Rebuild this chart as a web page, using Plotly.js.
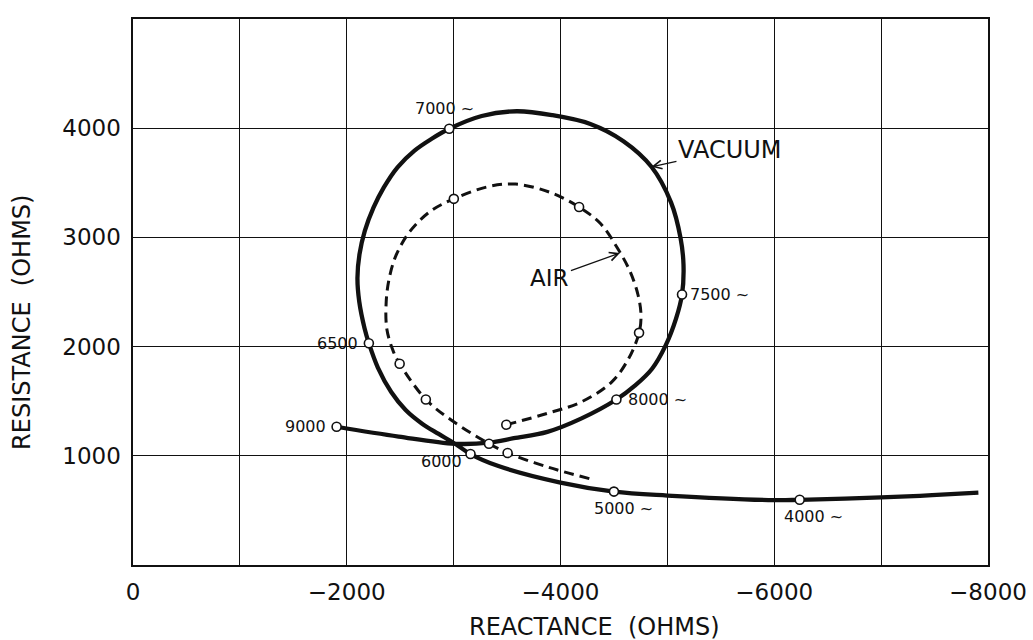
<!DOCTYPE html>
<html>
<head>
<meta charset="utf-8">
<script src="https://cdn.plot.ly/plotly-3.0.1.min.js"></script>
<style>
  html, body { margin: 0; padding: 0; background: #fff; }
  #chart { width: 1033px; height: 640px; }
</style>
</head>
<body>
<div id="chart"></div>
<script>
// ---- Data ----
// Vacuum locus (solid), traced from the low-frequency end to 9000 ~
const vacuumX = [-7910, -7477, -7000, -6238, -6000, -5000, -4500, -4000, -3419, -3158, -3014, -2860, -2705, -2551, -2416, -2291, -2207, -2167, -2117, -2100, -2119, -2169, -2251, -2347, -2475, -2634, -2791, -2959, -3263, -3590, -3920, -4279, -4589, -4851, -5034, -5123, -5151, -5137, -5081, -4983, -4855, -4696, -4523, -4192, -3877, -3563, -3328, -3014, -2485, -1905];
const vacuumY = [662, 639, 619, 597, 594, 636, 672, 755, 906, 1016, 1110, 1200, 1294, 1419, 1584, 1808, 2031, 2166, 2412, 2628, 2844, 3059, 3274, 3458, 3642, 3795, 3901, 3995, 4112, 4155, 4120, 4039, 3881, 3647, 3321, 2996, 2748, 2477, 2256, 2009, 1795, 1642, 1515, 1340, 1219, 1161, 1120, 1110, 1176, 1266];

// Vacuum frequency points
const vacPointX = [-6238, -4500, -3158, -2207, -2959, -5137, -4523, -1905];
const vacPointY = [597, 672, 1016, 2031, 3995, 2477, 1515, 1266];
const vacFreqLabels = ["4000 ~", "5000 ~", "6000", "6500", "7000 ~", "7500 ~", "8000 ~", "9000"];

// Air locus (dashed)
const airX = [-3493, -3879, -4194, -4478, -4637, -4735, -4753, -4725, -4649, -4528, -4374, -4174, -3909, -3580, -3316, -3002, -2781, -2591, -2463, -2397, -2369, -2375, -2434, -2495, -2740, -2987, -3331, -3505, -3888, -4277];
const airY = [1285, 1389, 1493, 1675, 1890, 2126, 2290, 2475, 2692, 2910, 3127, 3278, 3410, 3488, 3463, 3353, 3238, 3055, 2840, 2624, 2409, 2162, 1961, 1843, 1516, 1321, 1111, 1026, 895, 789];

// Air measured points
const airPointX = [-3493, -4735, -4174, -3002, -2495, -2740, -3331, -3505];
const airPointY = [1285, 2126, 3278, 3353, 1843, 1516, 1111, 1026];

// Axis ticks
const xTickVals = [0, -1000, -2000, -3000, -4000, -5000, -6000, -7000, -8000];
const xTickText = ["0", "", "\u22122000", "", "\u22124000", "", "\u22126000", "", "\u22128000"];
const yTickVals = [1000, 2000, 3000, 4000, 5000];
const yTickText = ["1000", "2000", "3000", "4000", ""];

// Curve names and axis titles
const seriesNames = ["VACUUM", "AIR"];
const xTitle = "REACTANCE  (OHMS)";
const yTitle = "RESISTANCE  (OHMS)";

// ---- Styling / placement (not data) ----
const FONT = "DejaVu Sans, Liberation Sans, sans-serif";
const INK = "#111";
const labelPlace = [
  {xanchor: "center", xshift: 14, yshift: -17},  // 4000
  {xanchor: "center", xshift: 10, yshift: -17},  // 5000
  {xanchor: "right",  xshift: -7, yshift: -7},   // 6000
  {xanchor: "right",  xshift: -9, yshift: 0},    // 6500
  {xanchor: "center", xshift: -5, yshift: 20},   // 7000
  {xanchor: "left",   xshift: 6,  yshift: 0},    // 7500
  {xanchor: "left",   xshift: 10, yshift: 0},    // 8000
  {xanchor: "right",  xshift: -9, yshift: 0}     // 9000
];

const traces = [
  {
    x: vacuumX, y: vacuumY, type: "scatter", mode: "lines", name: seriesNames[0],
    line: {color: INK, width: 4.3, shape: "spline", smoothing: 1},
    hoverinfo: "skip"
  },
  {
    x: airX, y: airY, type: "scatter", mode: "lines", name: seriesNames[1],
    line: {color: INK, width: 3, dash: "10px,6px", shape: "spline", smoothing: 1},
    hoverinfo: "skip"
  },
  {
    x: vacPointX, y: vacPointY, type: "scatter", mode: "markers",
    marker: {symbol: "circle", size: 9, color: "#fff", line: {color: INK, width: 1.6}}
  },
  {
    x: airPointX, y: airPointY, type: "scatter", mode: "markers",
    marker: {symbol: "circle", size: 9, color: "#fff", line: {color: INK, width: 1.6}}
  }
];

const annotations = vacFreqLabels.map((t, i) => ({
  x: vacPointX[i], y: vacPointY[i], xref: "x", yref: "y",
  text: t, showarrow: false,
  xanchor: labelPlace[i].xanchor, yanchor: "middle",
  xshift: labelPlace[i].xshift, yshift: labelPlace[i].yshift,
  font: {family: FONT, size: 16, color: INK}
}));

// VACUUM and AIR callouts with arrows pointing at the curves
annotations.push({
  x: -4851, y: 3647, xref: "x", yref: "y", text: seriesNames[0],
  showarrow: true, arrowhead: 5, arrowsize: 1.3, arrowwidth: 1.3, arrowcolor: INK,
  ax: 78, ay: -17, standoff: 0,
  font: {family: FONT, size: 24, color: INK}
});
annotations.push({
  x: -4556, y: 2857, xref: "x", yref: "y", text: seriesNames[1],
  showarrow: true, arrowhead: 5, arrowsize: 1.3, arrowwidth: 1.3, arrowcolor: INK,
  ax: -70, ay: 25, standoff: 0,
  font: {family: FONT, size: 23, color: INK}
});

// Axis titles
annotations.push({
  xref: "paper", yref: "paper", x: 0.54, y: -0.113, text: xTitle, showarrow: false,
  xanchor: "center", yanchor: "middle",
  font: {family: FONT, size: 24, color: INK}
});
annotations.push({
  xref: "paper", yref: "paper", x: -0.13, y: 0.445, text: yTitle, showarrow: false,
  textangle: -90, xanchor: "center", yanchor: "middle",
  font: {family: FONT, size: 24, color: INK}
});

const layout = {
  width: 1033, height: 640,
  margin: {l: 133, r: 45, t: 19, b: 75},
  paper_bgcolor: "#fff", plot_bgcolor: "#fff",
  showlegend: false,
  font: {family: FONT, color: INK},
  xaxis: {
    range: [0, -8000],
    tickmode: "array", tickvals: xTickVals, ticktext: xTickText,
    showgrid: true, gridcolor: INK, gridwidth: 1.2,
    zeroline: false, showline: true, linecolor: INK, linewidth: 1.6, mirror: true,
    ticks: "", ticklabelstandoff: 6,
    tickfont: {family: FONT, size: 23, color: INK}
  },
  yaxis: {
    range: [0, 5000],
    tickmode: "array", tickvals: yTickVals, ticktext: yTickText,
    showgrid: true, gridcolor: INK, gridwidth: 1.2,
    zeroline: false, showline: true, linecolor: INK, linewidth: 1.6, mirror: true,
    ticks: "", ticklabelstandoff: 6,
    tickfont: {family: FONT, size: 23, color: INK}
  },
  annotations: annotations
};

Plotly.newPlot("chart", traces, layout, {displayModeBar: false, staticPlot: true});
</script>
</body>
</html>
